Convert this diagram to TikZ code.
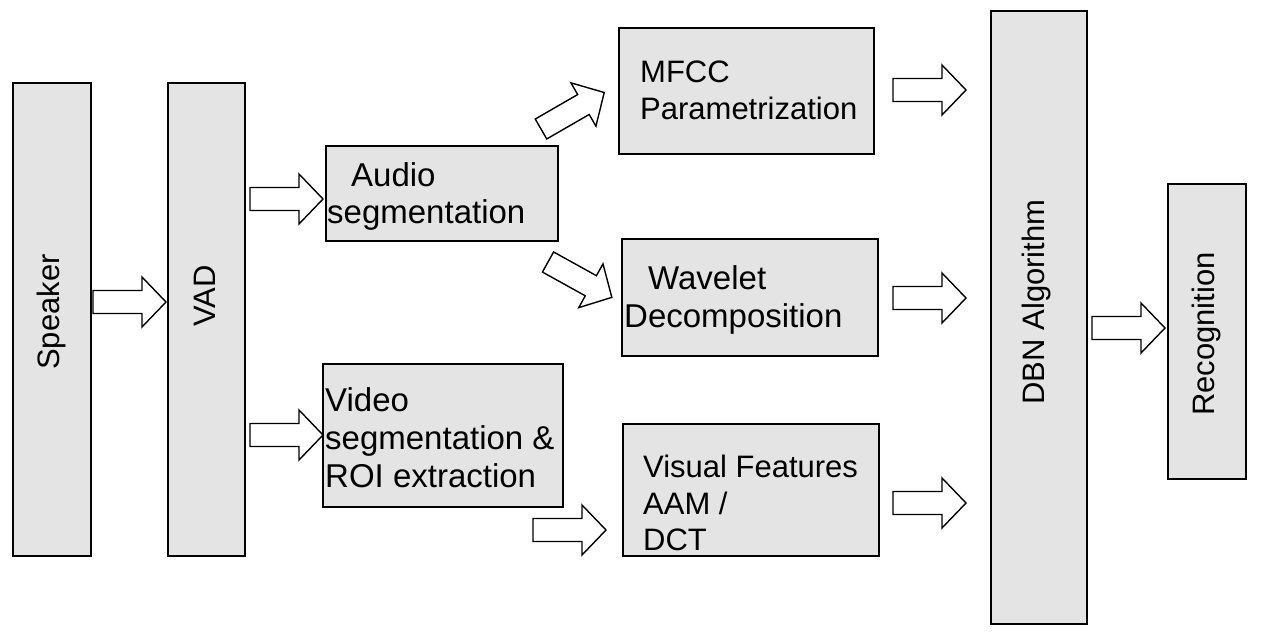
\documentclass[tikz,border=0pt]{standalone}
\usepackage{fontspec}
\setmainfont{Liberation Sans}
\usetikzlibrary{calc}
\definecolor{boxgray}{HTML}{E4E4E4}
\tikzset{
  x=1pt, y=-1pt,
  box/.style={draw=black, line width=2pt, fill=boxgray, anchor=north west, inner sep=0pt},
  txt/.style={anchor=base west, inner sep=0pt, font=\fontsize{31}{37}\selectfont},
  bigtxt/.style={txt, font=\fontsize{33}{39}\selectfont},
  vtxt/.style={rotate=90, inner sep=0pt, font=\fontsize{31}{37}\selectfont},
  arrowline/.style={draw=black, fill=white, line width=1.4pt, line join=miter},
  blockarrow/.pic={\path[arrowline] (0,-11.5) -- (49,-11.5) -- (49,-25) -- (73,0) -- (49,25) -- (49,11.5) -- (0,11.5) -- cycle;}
}
\begin{document}
\begin{tikzpicture}
\useasboundingbox (0,0) rectangle (1267,635);
% boxes
\node[box, minimum width=78pt, minimum height=473pt] (sp) at (12,82) {};
\node[box, minimum width=77pt, minimum height=473pt] (vad) at (167,82) {};
\node[box, minimum width=232pt, minimum height=95pt] (audio) at (325,145) {};
\node[box, minimum width=240pt, minimum height=143pt] (video) at (322,363) {};
\node[box, minimum width=255pt, minimum height=126pt] (mfcc) at (618,27) {};
\node[box, minimum width=256pt, minimum height=117pt] (wav) at (621,238) {};
\node[box, minimum width=256pt, minimum height=132pt] (vis) at (622,423) {};
\node[box, minimum width=96pt, minimum height=613pt] (dbn) at (990,10) {};
\node[box, minimum width=78pt, minimum height=295pt] (rec) at (1167,183) {};
% vertical labels
\node[vtxt] (tsp) at (51,312) {Speaker};
\node[vtxt] (tvad) at (205,296) {VAD};
\node[vtxt] (tdbn) at (1036,302) {DBN Algorithm};
\node[vtxt] (trec) at (1206,334) {Recognition};
% box texts
\node[bigtxt] (ta1) at (351,186) {Audio};
\node[bigtxt] (ta2) at (327,223) {segmentation};
\node[bigtxt] (tv1) at (325,411) {Video};
\node[bigtxt] (tv2) at (325,449) {segmentation \&};
\node[bigtxt] (tv3) at (325,487) {ROI extraction};
\node[txt] (tm1) at (640,82) {MFCC};
\node[txt] (tm2) at (640,119) {Parametrization};
\node[bigtxt] (tw1) at (648,289) {Wavelet};
\node[bigtxt] (tw2) at (624,327) {Decomposition};
\node[txt] (tf1) at (643,477) {Visual Features};
\node[txt] (tf2) at (643,514) {AAM /};
\node[txt] (tf3) at (643,550) {DCT};
% block arrows
\pic at (93,302) {blockarrow};
\pic at (250,199) {blockarrow};
\pic at (250,435) {blockarrow};
\pic[rotate=30] at (541,129) {blockarrow};
\pic[rotate=-29] at (548,262) {blockarrow};
\pic at (533,530) {blockarrow};
\pic at (893,90) {blockarrow};
\pic at (893,298) {blockarrow};
\pic at (893,503) {blockarrow};
\pic at (1092,328) {blockarrow};
\end{tikzpicture}
\end{document}
